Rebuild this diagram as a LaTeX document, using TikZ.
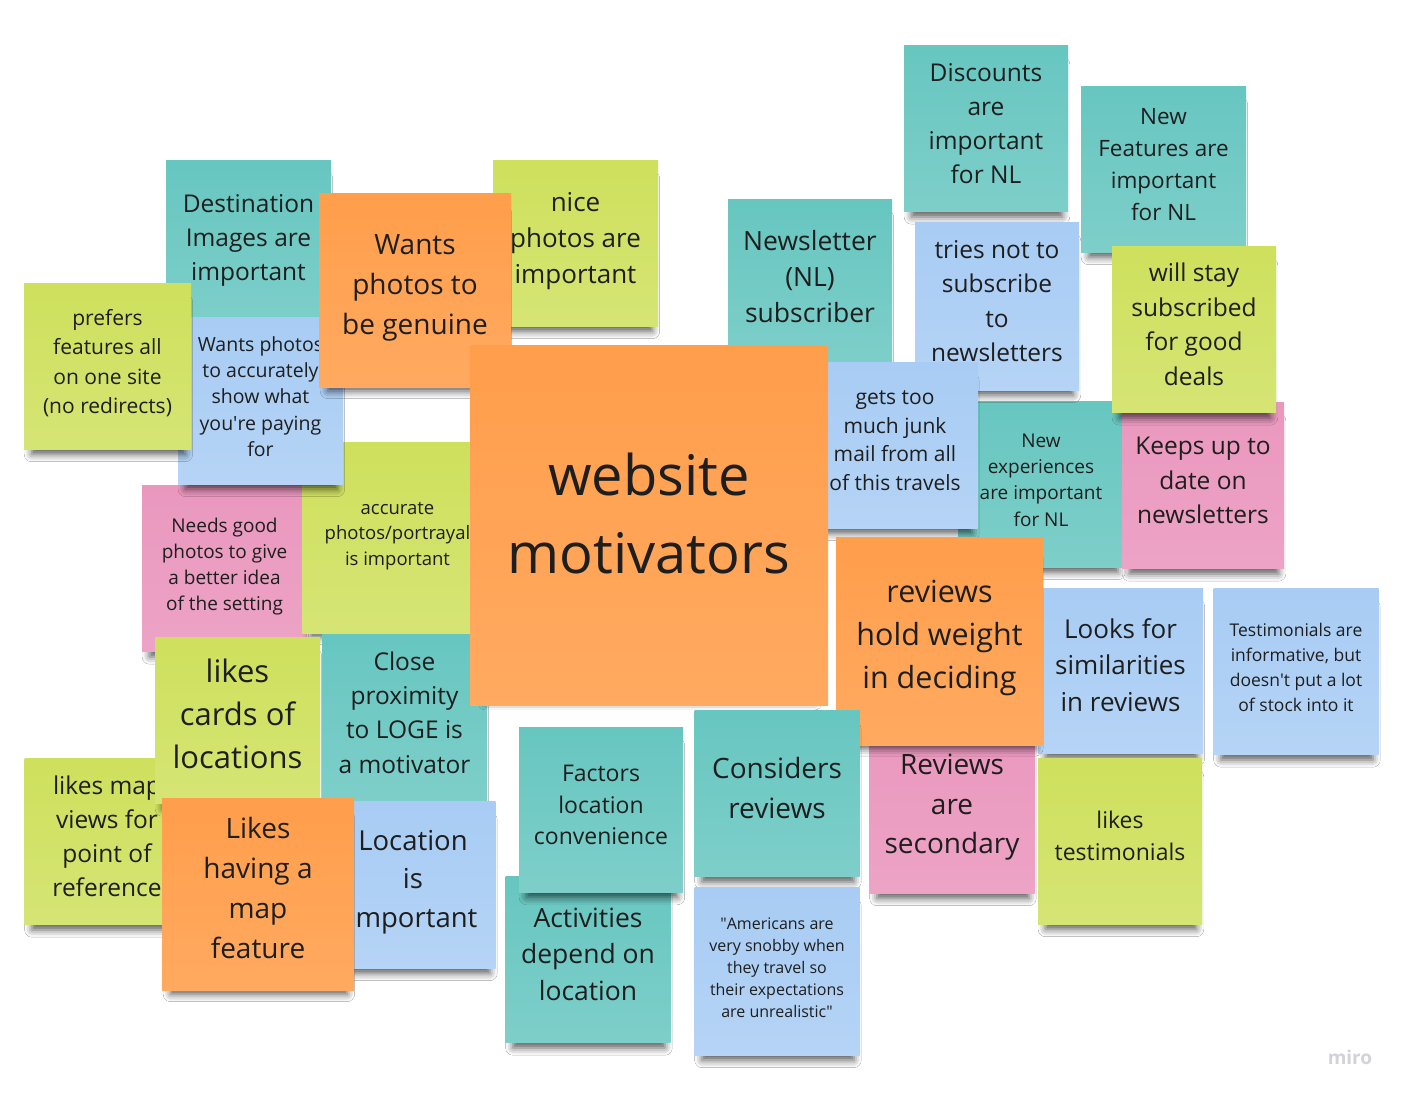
\documentclass[tikz,border=0pt]{standalone}
\usepackage{fontspec}
\setmainfont{Open Sans}
\usetikzlibrary{shadows.blur}
\definecolor{Ink}{HTML}{1E1E1E}
\definecolor{Teal}{HTML}{67C6C0}
\definecolor{Peach}{HTML}{FF9E4B}
\definecolor{Lime}{HTML}{CEE05C}
\definecolor{Sky}{HTML}{A8CCF4}
\definecolor{Rose}{HTML}{EA97BE}
\definecolor{Mark}{HTML}{D2D2DA}
\newcommand{\notefont}[2]{\fontsize{#1}{#2}\selectfont}
\tikzset{
    note/.style={rectangle, inner sep=0pt, align=center, text=Ink, minimum width=165pt, minimum height=166pt,
        execute at begin node={\strut},
        execute at end node={\rule[-\dp\strutbox]{0pt}{1pt}},
        blur shadow={shadow xshift=1pt, shadow yshift=-13pt, shadow blur radius=8pt, shadow opacity=65, shadow scale=0.92}},
    tealnote/.style={note, top color=Teal, bottom color=Teal!85!white},
    peachnote/.style={note, top color=Peach, bottom color=Peach!88!white},
    limenote/.style={note, top color=Lime, bottom color=Lime!85!white},
    skynote/.style={note, top color=Sky, bottom color=Sky!85!white},
    rosenote/.style={note, top color=Rose, bottom color=Rose!88!white},
    bignote/.style={minimum width=192pt, minimum height=193pt},
}

\begin{document}
\begin{tikzpicture}[x=1pt, y=-1pt]
    \fill[white] (0,0) rectangle (1404,1096);
    \useasboundingbox (0,0) rectangle (1404,1096);

    % left cluster: photos
    \node[tealnote, font=\notefont{24.5}{34}] (destimg) at (248.5,243) {Destination\\Images are\\important};
    \node[limenote, font=\notefont{26}{36}] (nicephotos) at (575.5,243) {nice\\photos are\\important};
    \node[rosenote, font=\notefont{19}{26}] (needsgood) at (224.5,568.5) {Needs good\\photos to give\\a better idea\\of the setting};
    \node[limenote, bignote, minimum width=191pt, minimum height=191pt, font=\notefont{18.5}{25.5}] (portrayal) at (397.5,537.5) {accurate\\photos/portrayal\\is important};
    \node[skynote, minimum height=167pt, font=\notefont{19.5}{26.3}] (accphotos) at (260.5,400.5) {Wants photos\\to accurately\\show what\\you\textquotesingle re paying\\for};
    \node[limenote, minimum width=167pt, font=\notefont{21}{29.5}] (prefers) at (107.5,366) {prefers\\features all\\on one site\\(no redirects)};
    \node[peachnote, bignote, minimum height=194pt, font=\notefont{28}{40}] (genuine) at (415,290) {Wants\\photos to\\be genuine};

    % newsletter cluster
    \node[tealnote, minimum width=164pt, font=\notefont{26.5}{36}] (newsletter) at (810,282) {Newsletter\\(NL)\\subscriber};
    \node[tealnote, minimum width=164pt, font=\notefont{24.5}{34}] (discounts) at (986,128.5) {Discounts\\are\\important\\for NL};
    \node[tealnote, font=\notefont{22.5}{32}] (newfeat) at (1163.5,169) {New\\Features are\\important\\for NL};
    \node[tealnote, font=\notefont{19}{26.3}] (newexp) at (1041,484) {New\\experiences\\are important\\for NL};
    \node[rosenote, minimum width=162pt, font=\notefont{24.5}{34.5}] (keeps) at (1203,485.5) {Keeps up to\\date on\\newsletters};
    \node[limenote, minimum width=164pt, font=\notefont{24.5}{34.5}] (willstay) at (1194,329.5) {will stay\\subscribed\\for good\\deals};
    \node[skynote, minimum width=164pt, minimum height=168pt, font=\notefont{24.5}{34.5}] (tries) at (997,306) {tries not to\\subscribe\\to\\newsletters};
    \node[skynote, font=\notefont{21}{28.7}] (junk) at (895,445) {gets too\\much junk\\mail from all\\of this travels};

    % location cluster (upper part)
    \node[tealnote, font=\notefont{24.5}{34.3}] (closeprox) at (404.5,717.5) {Close\\proximity\\to LOGE is\\a motivator};

    % title note
    \node[peachnote, minimum width=358pt, minimum height=360pt, font=\notefont{56}{78}] (motivators) at (649,525) {website\\motivators};

    % reviews cluster
    \node[skynote, minimum height=165pt, font=\notefont{26}{36.5}] (similar) at (1120.5,670.5) {Looks for\\similarities\\in reviews};
    \node[rosenote, font=\notefont{28}{39.5}] (secondary) at (952,810) {Reviews\\are\\secondary};
    \node[peachnote, minimum width=207pt, minimum height=208pt, font=\notefont{30.5}{43}] (reviewshold) at (939.5,641) {reviews\\hold weight\\in deciding};
    \node[skynote, font=\notefont{17.5}{25}] (testim) at (1296,671.5) {Testimonials are\\informative, but\\doesn\textquotesingle t put a lot\\of stock into it};
    \node[limenote, minimum width=164pt, font=\notefont{23}{32}] (liketestim) at (1120,841) {likes\\testimonials};
    \node[tealnote, font=\notefont{28}{40}] (considers) at (777,793.5) {Considers\\reviews};

    % location cluster (lower part)
    \node[tealnote, font=\notefont{26.5}{36.5}] (activities) at (588,959.5) {Activities\\depend on\\location};
    \node[tealnote, minimum width=164pt, minimum height=165pt, font=\notefont{23}{31.5}] (factors) at (601,809.5) {Factors\\location\\convenience};
    \node[skynote, minimum height=168pt, font=\notefont{16}{22}] (americans) at (777,971) {\textquotedbl Americans are\\very snobby when\\they travel so\\their expectations\\are unrealistic\textquotedbl};
    \node[limenote, font=\notefont{24.5}{34}] (likesmap) at (107,841.5) {likes map\\views for\\point of\\reference};
    \node[limenote, font=\notefont{31}{43}] (likescards) at (237.5,720.5) {likes\\cards of\\locations};
    \node[skynote, minimum height=167pt, font=\notefont{27.5}{38.5}] (locimp) at (413,884.5) {Location\\is\\important};
    \node[peachnote, bignote, minimum height=192pt, font=\notefont{28}{40}] (havingmap) at (258,894) {Likes\\having a\\map\\feature};

    \node[text=Mark, font=\notefont{19}{22}\bfseries] (miro) at (1350,1057) {miro};
\end{tikzpicture}
\end{document}
